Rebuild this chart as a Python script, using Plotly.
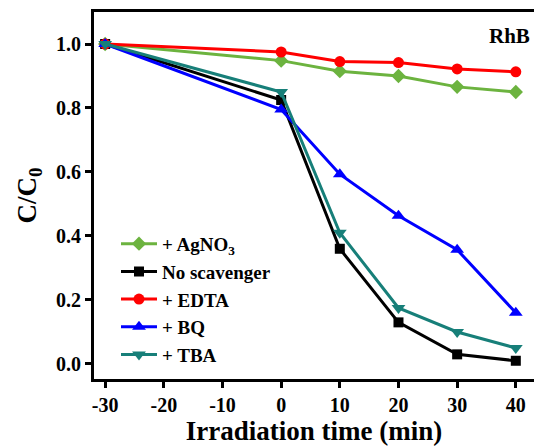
import plotly.graph_objects as go

# Irradiation time (min); -30 is the dark adsorption step
time_min = [-30, 0, 10, 20, 30, 40]

agno3 = [1.00, 0.948, 0.915, 0.900, 0.866, 0.850]
no_scavenger = [1.00, 0.825, 0.360, 0.130, 0.030, 0.010]
edta = [1.00, 0.975, 0.945, 0.942, 0.922, 0.913]
bq = [1.00, 0.795, 0.593, 0.463, 0.357, 0.160]
tba = [1.00, 0.850, 0.410, 0.175, 0.100, 0.050]

x_ticks = [-30, -20, -10, 0, 10, 20, 30, 40]
y_ticks = [0.0, 0.2, 0.4, 0.6, 0.8, 1.0]

series = [
    ("+ AgNO<sub>3</sub>", agno3, "#6cb33f", "diamond", 11),
    ("No scavenger", no_scavenger, "#000000", "square", 10),
    ("+ EDTA", edta, "#ff0000", "circle", 11),
    ("+ BQ", bq, "#0000ff", "triangle-up", 12),
    ("+ TBA", tba, "#177f79", "triangle-down", 12),
]

FONT = "Liberation Serif"

fig = go.Figure()
for name, ys, color, symbol, size in series:
    fig.add_trace(go.Scatter(
        x=time_min, y=ys, name=name, mode="lines+markers",
        line=dict(color=color, width=3),
        marker=dict(symbol=symbol, size=size, color=color),
        cliponaxis=False,
    ))

fig.add_annotation(
    x=0.995, y=0.935, xref="paper", yref="paper", xanchor="right", yanchor="middle",
    text="<b>RhB</b>", showarrow=False, font=dict(family=FONT, size=21, color="black"),
)

fig.update_layout(
    width=534, height=448,
    margin=dict(l=94, r=0, t=12, b=69),
    plot_bgcolor="white", paper_bgcolor="white",
    font=dict(family=FONT, color="black"),
    showlegend=True,
    legend=dict(
        x=0.05, y=0.42, xanchor="left", yanchor="top",
        bgcolor="rgba(0,0,0,0)", borderwidth=0,
        font=dict(family=FONT, size=19, color="black", weight="bold"),
        itemwidth=36, tracegroupgap=0,
    ),
    xaxis=dict(
        range=[-31.9, 43.1], tickvals=x_ticks, ticktext=[str(v) for v in x_ticks],
        showgrid=False, zeroline=False,
        showline=True, linecolor="black", linewidth=3, mirror=True,
        ticks="outside", ticklen=6, tickwidth=2.5, tickcolor="black",
        tickfont=dict(family=FONT, size=20, color="black", weight="bold"),
        title=dict(text="<b>Irradiation time (min)</b>", font=dict(family=FONT, size=27, color="black"),
                   standoff=6),
    ),
    yaxis=dict(
        range=[-0.047, 1.1], tickvals=y_ticks, ticktext=[f"{v:.1f}" for v in y_ticks],
        showgrid=False, zeroline=False,
        showline=True, linecolor="black", linewidth=3, mirror=False,
        ticks="outside", ticklen=6, tickwidth=2.5, tickcolor="black",
        tickfont=dict(family=FONT, size=20, color="black", weight="bold"),
        title=dict(text="<b>C/C<sub>0</sub></b>", font=dict(family=FONT, size=27, color="black"),
                   standoff=12),
    ),
)

fig.write_html("out.html")
